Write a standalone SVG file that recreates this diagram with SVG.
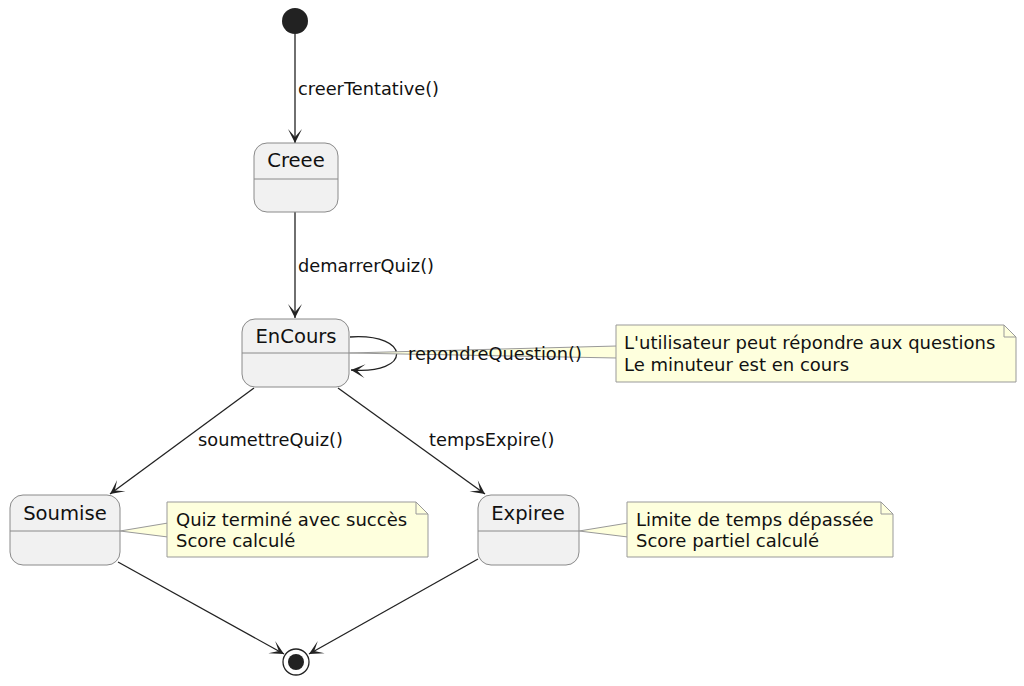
<svg xmlns="http://www.w3.org/2000/svg" width="1024" height="686" viewBox="0 0 1024 686">
<defs>
<style>
.st{fill:#F1F1F1;stroke:#8a8a8a;stroke-width:1}
.div{stroke:#8a8a8a;stroke-width:1}
.nm{font-family:"DejaVu Sans",sans-serif;font-size:19.6px;fill:#111;text-anchor:middle}
.lb{font-family:"DejaVu Sans",sans-serif;font-size:17.8px;fill:#111}
.nt{font-family:"DejaVu Sans",sans-serif;font-size:18px;fill:#111}
.note{fill:#FEFFDD;stroke:#999;stroke-width:1}
.edge{fill:none;stroke:#222;stroke-width:1.3}
</style>
<marker id="arr" viewBox="-15 -8 17 16" refX="0" refY="0" markerWidth="17" markerHeight="16" markerUnits="userSpaceOnUse" orient="auto">
<path d="M0,0 L-14,-7 L-6,0 L-14,7 Z" fill="#222"/>
</marker>
</defs>
<rect width="1024" height="686" fill="#fff"/>
<g id="connectors">
<line class="edge" x1="295" y1="34" x2="295" y2="143" marker-end="url(#arr)"/>
<line class="edge" x1="295" y1="212" x2="295" y2="318" marker-end="url(#arr)"/>
<path class="edge" d="M350,337 C412,333 412,375 351,370" marker-end="url(#arr)"/>
<line class="edge" x1="254" y1="388" x2="110" y2="494" marker-end="url(#arr)"/>
<line class="edge" x1="338" y1="388" x2="485" y2="494" marker-end="url(#arr)"/>
<line class="edge" x1="118" y1="562" x2="284" y2="654" marker-end="url(#arr)"/>
<line class="edge" x1="478" y1="559" x2="309" y2="654" marker-end="url(#arr)"/>
<text class="lb" x="298" y="95">creerTentative()</text>
<text class="lb" x="298" y="272">demarrerQuiz()</text>
<text class="lb" x="198" y="446">soumettreQuiz()</text>
<text class="lb" x="429" y="446">tempsExpire()</text>
</g>
<g id="start"><circle cx="295" cy="21" r="13" fill="#222"/></g>
<g id="Creee">
<rect class="st" x="254" y="143" width="84" height="69" rx="13"/>
<line class="div" x1="254" y1="179" x2="338" y2="179"/>
<text class="nm" x="296" y="167">Creee</text>
</g>
<g id="EnCours">
<rect class="st" x="242" y="319" width="107" height="68" rx="13"/>
<line class="div" x1="242" y1="353" x2="349" y2="353"/>
<text class="nm" x="296" y="343">EnCours</text>
</g>
<g id="note1">
<polygon class="note" points="349,353 617,346 617,358"/>
<path class="note" d="M616,325 H1004 L1016,337 V382 H616 Z"/>
<path d="M1004,325 V337 H1016" fill="none" stroke="#999"/>
<text class="nt" x="624" y="349">L'utilisateur peut répondre aux questions</text>
<text class="nt" x="624" y="371">Le minuteur est en cours</text>
</g>
<text class="lb" x="408" y="360">repondreQuestion()</text>
<g id="Soumise">
<rect class="st" x="10" y="495" width="110" height="70" rx="13"/>
<line class="div" x1="10" y1="531" x2="120" y2="531"/>
<text class="nm" x="65" y="520">Soumise</text>
</g>
<g id="note2">
<polygon class="note" points="120,531 168,523 168,537"/>
<path class="note" d="M167,502 H416 L428,514 V557 H167 Z"/>
<path d="M416,502 V514 H428" fill="none" stroke="#999"/>
<text class="nt" x="176" y="526">Quiz terminé avec succès</text>
<text class="nt" x="176" y="547">Score calculé</text>
</g>
<g id="Expiree">
<rect class="st" x="478" y="495" width="101" height="70" rx="13"/>
<line class="div" x1="478" y1="531" x2="579" y2="531"/>
<text class="nm" x="528" y="520">Expiree</text>
</g>
<g id="note3">
<polygon class="note" points="579,531 628,523 628,537"/>
<path class="note" d="M627,502 H881 L893,514 V557 H627 Z"/>
<path d="M881,502 V514 H893" fill="none" stroke="#999"/>
<text class="nt" x="636" y="526">Limite de temps dépassée</text>
<text class="nt" x="636" y="547">Score partiel calculé</text>
</g>
<g id="end">
<circle cx="296" cy="662" r="13" fill="#fff" stroke="#222" stroke-width="1.3"/>
<circle cx="296" cy="662" r="8" fill="#222"/>
</g>
</svg>
